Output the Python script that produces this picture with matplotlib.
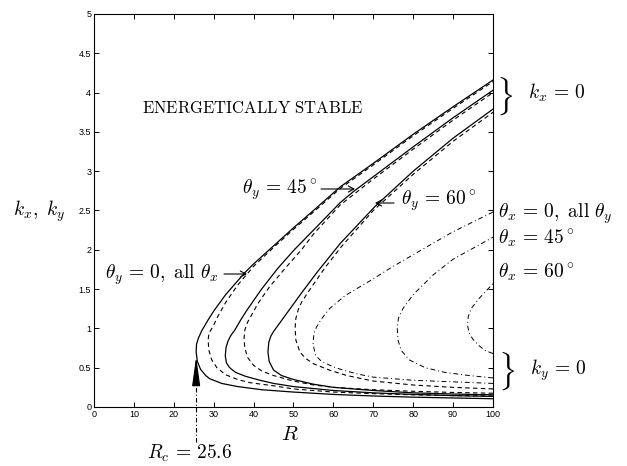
import matplotlib
matplotlib.use("Agg")
import matplotlib.pyplot as plt

plt.rcParams['mathtext.fontset'] = 'cm'
plt.rcParams['font.family'] = ['Liberation Sans', 'DejaVu Sans']

# curves: each listed from the lower end at R=100, round the nose, to the upper end at R=100
# solid: theta_y = 0, 45, 60 (k_x = 0)
R_s0 = [100, 90, 80, 70, 60, 50, 42, 36, 32, 29, 28, 26.7, 25.9, 25.6,
        25.7, 26.2, 27, 28.5, 30, 33, 38, 40, 45, 50, 55, 61.7, 70, 80, 90, 100]
k_s0 = [.105, .115, .125, .14, .16, .19, .22, .26, .30, .36, .40, .48, .58, .70,
        .80, .88, .97, 1.1, 1.22, 1.43, 1.72, 1.82, 2.05, 2.28, 2.5, 2.8, 3.1, 3.47, 3.82, 4.16]

R_s45 = [100, 90, 80, 70, 60, 50, 45, 41.6, 38, 35.5, 34, 33.2, 32.9,
         33.1, 33.6, 34.3, 35.3, 36.8, 38.3, 42, 46, 50, 55, 61.7, 65, 70, 80, 90, 100]
k_s45 = [.135, .145, .16, .18, .21, .26, .30, .34, .39, .44, .50, .56, .65,
         .76, .84, .91, .98, 1.11, 1.23, 1.5, 1.76, 1.99, 2.25, 2.6, 2.74, 2.93, 3.31, 3.68, 4.03]

R_s60 = [100, 90, 80, 70, 60, 55, 50, 47, 45, 43.9, 43.6,
         43.8, 44.3, 45, 46, 49, 52, 56, 61.7, 70.4, 80, 90, 100]
k_s60 = [.155, .165, .18, .21, .25, .29, .35, .40, .47, .58, .70,
         .82, .90, .96, 1.03, 1.24, 1.45, 1.72, 2.08, 2.55, 3.0, 3.42, 3.79]

# dashed companions
R_d0 = [100, 90, 80, 70, 60, 50, 45, 39, 36, 33, 30.8, 29.5, 28.8, 28.6,
        28.8, 29.8, 31, 33, 36, 40, 45, 50, 55, 61.7, 70, 80, 90, 100]
k_d0 = [.14, .145, .155, .17, .19, .23, .27, .31, .35, .41, .5, .6, .72, .85,
        .94, 1.02, 1.15, 1.33, 1.55, 1.79, 2.03, 2.26, 2.48, 2.78, 3.08, 3.45, 3.80, 4.14]

R_d45 = [100, 90, 80, 70, 60, 55, 50, 45, 42, 40, 38.5, 37.8, 37.6,
         37.8, 38.5, 39.5, 41, 44, 48, 52, 55, 61.7, 70, 80, 90, 100]
k_d45 = [.175, .185, .2, .22, .25, .28, .33, .4, .46, .53, .63, .75, .87,
         .98, 1.08, 1.17, 1.31, 1.53, 1.77, 2.0, 2.2, 2.57, 2.9, 3.28, 3.65, 4.0]

R_d60 = [100, 90, 80, 70, 63.4, 59, 55, 53, 51.6, 50.6, 50.4,
         50.6, 51.2, 52, 53.5, 55, 58, 62, 70, 80, 90, 100]
k_d60 = [.23, .25, .28, .33, .40, .47, .55, .62, .70, .85, 1.0,
         1.13, 1.24, 1.33, 1.45, 1.56, 1.78, 2.04, 2.5, 2.96, 3.38, 3.75]

# dash-dot: theta_x = 0, 45, 60 (k_y = 0)
R_dd0 = [100, 90, 80, 70, 66, 62.4, 60, 57, 55.5, 54.9,
         55.1, 55.8, 57, 59, 63, 69, 75, 83.5, 90, 100]
k_dd0 = [.30, .32, .34, .38, .42, .47, .51, .58, .66, .80,
         .93, 1.02, 1.12, 1.25, 1.42, 1.6, 1.79, 2.04, 2.23, 2.48]

R_dd45 = [100, 94, 88, 83, 79, 77, 76.2, 76, 76.3, 77.4, 80, 85, 90, 100]
k_dd45 = [.37, .40, .44, .5, .6, .72, .85, 1.0, 1.13, 1.25, 1.43, 1.68, 1.88, 2.16]

R_dd60 = [100, 98, 96.5, 95, 94, 93.6, 93.8, 94.5, 96.5, 100]
k_dd60 = [.68, .72, .78, .86, .94, 1.05, 1.15, 1.25, 1.38, 1.57]

Rc = 25.6

W, H = 627, 466
fig = plt.figure(figsize=(W / 100, H / 100), dpi=100)
ax = fig.add_axes([94 / W, 1 - 407 / H, (493 - 94) / W, (407 - 14) / H])

solid = dict(color='k', lw=0.9, ls='-')
dash = dict(color='k', lw=0.8, ls=(0, (4, 3)))
dashdot = dict(color='k', lw=0.7, ls=(0, (5, 3, 1, 3)))

for R, k, st in [(R_s0, k_s0, solid), (R_s45, k_s45, solid), (R_s60, k_s60, solid),
                 (R_d0, k_d0, dash), (R_d45, k_d45, dash), (R_d60, k_d60, dash),
                 (R_dd0, k_dd0, dashdot), (R_dd45, k_dd45, dashdot), (R_dd60, k_dd60, dashdot)]:
    ax.plot(R, k, **st)

ax.set_xlim(0, 100)
ax.set_ylim(0, 5)
ax.set_xticks(range(0, 101, 10))
ax.set_yticks([i * 0.5 for i in range(11)])
ax.set_yticklabels(['%g' % (i * 0.5) for i in range(11)])
ax.tick_params(direction='in', length=3.5, width=0.7, labelsize=6.5, pad=2,
               top=True, right=True)
for s in ax.spines.values():
    s.set_linewidth(0.8)

# R_c marker
ax.plot([Rc, Rc], [-0.45, 0.34], color='k', lw=0.8, ls=(0, (4, 2, 1, 2)), clip_on=False)
ax.annotate('', xy=(Rc, 0.64), xytext=(Rc, 0.30),
            arrowprops=dict(arrowstyle='-|>,head_length=1.8,head_width=0.25',
                            color='k', lw=0.8, shrinkA=0, shrinkB=0))


def fx(x):
    return x / W


def fy(y):
    return 1 - y / H


def label(x, y, s, size=14, ha='left'):
    fig.text(fx(x), fy(y), s, fontsize=size, ha=ha, va='center')


def arrow(x0, x1, y):
    fig.add_artist(matplotlib.patches.FancyArrowPatch(
        (fx(x0), fy(y)), (fx(x1), fy(y)), transform=fig.transFigure,
        arrowstyle='->,head_length=4,head_width=2.2', color='k', lw=0.8,
        shrinkA=0, shrinkB=0))


label(142, 108, r'$\mathrm{ENERGETICALLY\ STABLE}$', size=12)
label(13, 211, r'$k_x,\ k_y$')
label(242, 190, r'$\theta_y \,=\, 45^\circ$')
arrow(321, 355, 189)
label(105, 275, r'$\theta_y \,=\, 0,\ \mathrm{all}\ \theta_x$')
arrow(224, 247, 274)
arrow(394, 375, 203)
label(401, 201, r'$\theta_y \,=\, 60^\circ$')
label(498, 214, r'$\theta_x \,=\, 0,\ \mathrm{all}\ \theta_y$')
label(498, 238, r'$\theta_x \,=\, 45^\circ$')
label(498, 272, r'$\theta_x \,=\, 60^\circ$')
label(496, 96, r'$\}$', size=23)
label(528, 93, r'$k_x \,=\, 0$')
label(498, 371, r'$\}$', size=23)
label(530, 370, r'$k_y \,=\, 0$')
label(290, 435, r'$R$', size=15, ha='center')
label(190, 453, r'$R_c \,=\, 25.6$', ha='center')

fig.savefig('out.png', dpi=100)
